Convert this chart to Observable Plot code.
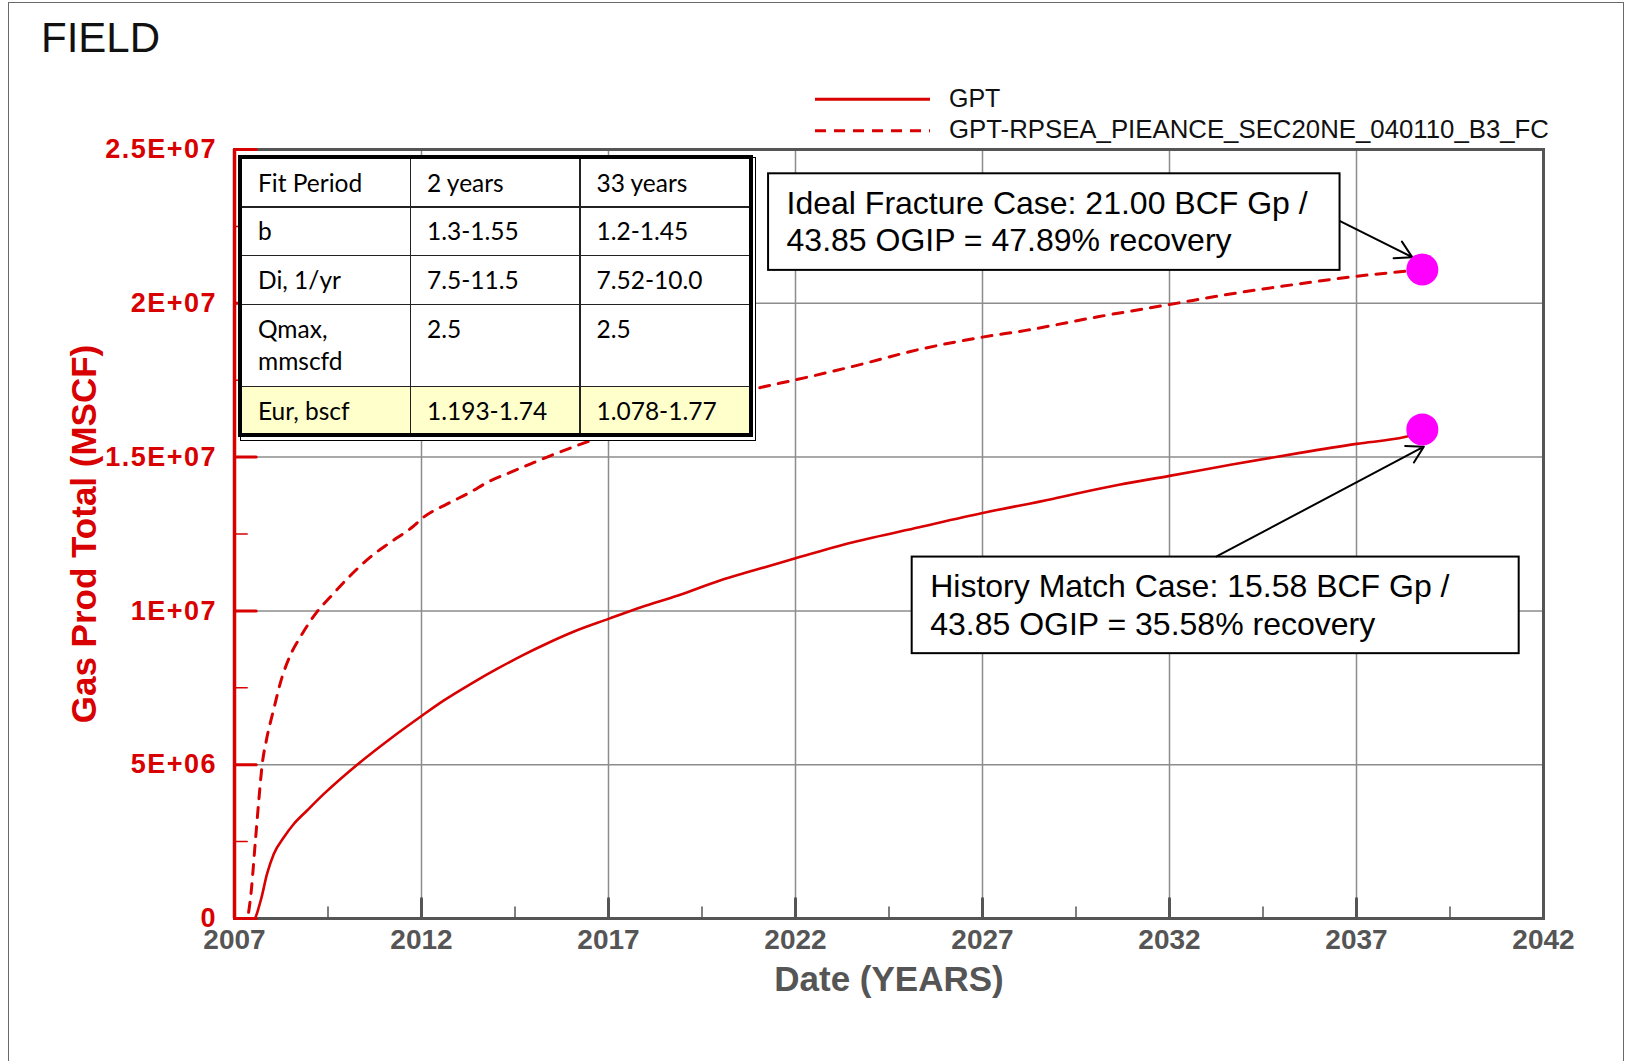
<!DOCTYPE html>
<html>
<head>
<meta charset="utf-8">
<script src="https://cdn.jsdelivr.net/npm/d3@7"></script>
<script src="https://cdn.jsdelivr.net/npm/@observablehq/plot@0.6"></script>
<style>
html, body { margin:0; padding:0; background:#fff; }
#wrap { position:relative; width:1629px; height:1061px; overflow:hidden; font-family:"Liberation Sans", Arial, sans-serif; }
#wrap > svg { position:absolute; left:0; top:0; }
#pageBorder { position:absolute; left:8px; top:1.5px; width:1616px; height:1100px; border:1.5px solid #6a6a6a; box-sizing:border-box; }
#title { position:absolute; left:41px; top:17px; font-size:42px; line-height:1; color:#111; }
#tshadow { position:absolute; left:240px; top:157px; width:516px; height:284px; border:1.5px solid #000; box-sizing:border-box; background:#fff; }
#fit { position:absolute; left:238px; top:155px; border:4px solid #000; display:grid;
  grid-template-columns:167.5px 168px 168px; grid-template-rows:47.25px 47.2px 47.5px 80.2px 45.85px;
  gap:1.5px; background:#222; font-family:Lato, "Open Sans", sans-serif; font-size:24.5px; color:#000; }
#fit div { background:#fff; padding:7.5px 0 0 16px; line-height:31.7px; white-space:pre-line; box-sizing:border-box; overflow:hidden; }
#fit div.hl { background:#ffffcc; }
g[aria-label="y-axis tick label"] text { letter-spacing:1.5px; }
</style>
</head>
<body>
<div id="wrap"></div>
<script>
// ---------- data ----------
const chartTitle = "FIELD";
const xTitle = "Date (YEARS)";
const yTitle = "Gas Prod Total (MSCF)";
const seriesNames = ["GPT", "GPT-RPSEA_PIEANCE_SEC20NE_040110_B3_FC"];

const xDomain = [2007, 2042];
const yDomain = [0, 2.5e7];
const xMajorTicks = [2007, 2012, 2017, 2022, 2027, 2032, 2037, 2042];
const xMinorTicks = [2009.5, 2014.5, 2019.5, 2024.5, 2029.5, 2034.5, 2039.5];
const yMajorTicks = [0, 5e6, 1e7, 1.5e7, 2e7, 2.5e7];
const yMinorTicks = [2.5e6, 7.5e6, 1.25e7, 1.75e7, 2.25e7];
const yTickLabels = ["0", "5E+06", "1E+07", "1.5E+07", "2E+07", "2.5E+07"];

// GPT (history match case, solid)
const gptYears = [2007, 2007.52, 2007.70, 2007.87, 2008.05, 2008.32, 2008.59, 2008.94, 2009.39, 2010.28,
  2011.15, 2012.02, 2012.6, 2013.31, 2014.03, 2014.74, 2015.37, 2016.08, 2017.0,
  2017.87, 2018.86, 2019.98, 2020.87, 2022.0, 2023.54, 2025.31, 2027.0, 2028.87, 2030.12, 2030.65,
  2032.0, 2033.67, 2035.45, 2037.0, 2038.29, 2038.76];
const gptValues = [0, 0, 0.58e6, 1.45e6, 2.1e6, 2.64e6, 3.08e6, 3.51e6, 4.05e6, 5.0e6,
  5.83e6, 6.6e6, 7.09e6, 7.62e6, 8.12e6, 8.58e6, 8.95e6, 9.33e6, 9.74e6,
  10.12e6, 10.5e6, 10.99e6, 11.31e6, 11.71e6, 12.23e6, 12.72e6, 13.18e6, 13.64e6, 13.97e6, 14.1e6,
  14.39e6, 14.76e6, 15.13e6, 15.43e6, 15.65e6, 15.8e6];

// GPT-RPSEA... (ideal fracture case, dashed)
const fcYears = [2007, 2007.33, 2007.42, 2007.56, 2007.65, 2007.74, 2007.86, 2008.04, 2008.27, 2008.49,
  2008.76, 2009.2, 2009.56, 2010.01, 2010.63, 2011.17, 2011.75, 2012.06, 2012.69, 2013.31, 2013.76,
  2014.39, 2014.92, 2015.46, 2015.99, 2016.49, 2021.09, 2022.0, 2023.54, 2025.31, 2027.0, 2028.16,
  2030.12, 2032.0, 2033.67, 2035.45, 2037.0, 2038.29, 2038.76];
const fcValues = [0, 0, 0.58e6, 2.54e6, 3.84e6, 5.0e6, 5.84e6, 6.76e6, 7.84e6, 8.55e6,
  9.15e6, 9.96e6, 10.45e6, 11.04e6, 11.75e6, 12.23e6, 12.72e6, 13.05e6, 13.48e6, 13.86e6, 14.18e6,
  14.51e6, 14.78e6, 15.05e6, 15.3e6, 15.52e6, 17.27e6, 17.51e6, 17.95e6, 18.5e6, 18.9e6, 19.12e6,
  19.57e6, 19.96e6, 20.31e6, 20.63e6, 20.88e6, 21.04e6, 21.1e6];

// end-point markers
const endYears = [2038.76, 2038.76];
const endValues = [2.11e7, 1.59e7];

// annotation texts
const noteTexts = [
  "Ideal Fracture Case: 21.00 BCF Gp /\n43.85 OGIP = 47.89% recovery",
  "History Match Case: 15.58 BCF Gp /\n43.85 OGIP = 35.58% recovery"
];

// fit table
const tableHeader = ["Fit Period", "2 years", "33 years"];
const tableRows = [
  ["b", "1.3-1.55", "1.2-1.45"],
  ["Di, 1/yr", "7.5-11.5", "7.52-10.0"],
  ["Qmax,\nmmscfd", "2.5", "2.5"],
  ["Eur, bscf", "1.193-1.74", "1.078-1.77"]
];

// ---------- layout (annotation placement in data units) ----------
const noteBoxes = [
  {x1: 2021.28, x2: 2036.56, y1: 21.07e6, y2: 24.21e6},
  {x1: 2025.12, x2: 2041.35, y1: 8.61e6, y2: 11.75e6}
];
const noteArrows = [
  {x1: 2036.56, y1: 22.67e6, x2: 2038.49, y2: 21.5e6},
  {x1: 2033.26, y1: 11.77e6, x2: 2038.8, y2: 15.34e6}
];

const RED = "#d80000", GRAY = "#555555", GRID = "#8c8c8c";

const gpt = gptYears.map((y, i) => ({year: y, value: gptValues[i]}));
const fc = fcYears.map((y, i) => ({year: y, value: fcValues[i]}));
const ends = endYears.map((y, i) => ({year: y, value: endValues[i]}));
const boxes = noteBoxes.map((b, i) => ({...b, text: noteTexts[i]}));

const tickLine = {draw(context, l) { context.moveTo(0, 0); context.lineTo(0, -l); }};

const chart = Plot.plot({
  width: 1629, height: 1061,
  marginLeft: 234, marginRight: 86, marginTop: 149, marginBottom: 143,
  x: {domain: xDomain},
  y: {domain: yDomain},
  style: {fontFamily: '"Liberation Sans", Arial, sans-serif', background: "transparent", overflow: "visible"},
  marks: [
    Plot.gridX(xMajorTicks.slice(1, -1), {stroke: GRID, strokeOpacity: 1, strokeWidth: 1.5}),
    Plot.gridY(yMajorTicks.slice(1, -1), {stroke: GRID, strokeOpacity: 1, strokeWidth: 1.5}),
    Plot.frame({stroke: GRAY, strokeWidth: 3}),
    Plot.ruleX([xDomain[0]], {stroke: RED, strokeWidth: 3.5}),
    Plot.vector(yMajorTicks, {x: () => xDomain[0], y: d => d, length: 21.7, rotate: 90, anchor: "start", shape: tickLine, stroke: RED, strokeWidth: 3}),
    Plot.vector(yMinorTicks, {x: () => xDomain[0], y: d => d, length: 12.7, rotate: 90, anchor: "start", shape: tickLine, stroke: RED, strokeWidth: 1.5}),
    Plot.vector(xMajorTicks.slice(1, -1), {x: d => d, y: () => yDomain[0], length: 20, rotate: 0, anchor: "start", shape: tickLine, stroke: GRAY, strokeWidth: 3}),
    Plot.vector(xMinorTicks, {x: d => d, y: () => yDomain[0], length: 11.5, rotate: 0, anchor: "start", shape: tickLine, stroke: GRAY, strokeWidth: 1.5}),
    Plot.line(gpt, {x: "year", y: "value", stroke: RED, strokeWidth: 2.6, curve: "monotone-x"}),
    Plot.line(fc, {x: "year", y: "value", stroke: RED, strokeWidth: 3, strokeDasharray: "10,9", curve: "monotone-x"}),
    Plot.rect(boxes, {x1: "x1", x2: "x2", y1: "y1", y2: "y2", fill: "white", stroke: "black", strokeWidth: 2}),
    Plot.text(boxes, {x: "x1", y: "y2", text: "text", textAnchor: "start", lineAnchor: "top", dx: 18, dy: 13.5, fontSize: 32, lineHeight: 1.17, fill: "#000"}),
    Plot.arrow(noteArrows, {x1: "x1", y1: "y1", x2: "x2", y2: "y2", stroke: "#000", strokeWidth: 2, headLength: 14}),
    Plot.dot(ends, {x: "year", y: "value", r: 16, fill: "#ff00ff", stroke: null}),
    Plot.axisX(xMajorTicks, {tickSize: 0, tickPadding: 11, tickFormat: d => String(d), fontSize: 28, fontWeight: "bold", color: GRAY, fill: GRAY, label: null}),
    Plot.axisY(yMajorTicks, {tickSize: 0, tickPadding: 17.5, tickFormat: d => yTickLabels[yMajorTicks.indexOf(d)], fontSize: 27, fontWeight: "bold", color: RED, fill: RED, label: null}),
    Plot.text([yTitle], {text: d => d, frameAnchor: "left", rotate: -90, dx: -150, fontSize: 35, fontWeight: "bold", fill: RED, textAnchor: "middle", lineAnchor: "middle"}),
    Plot.text([xTitle], {text: d => d, frameAnchor: "bottom", dy: 61, fontSize: 35, fontWeight: "bold", fill: GRAY, textAnchor: "middle", lineAnchor: "middle"})
  ]
});

const wrap = document.getElementById("wrap");
wrap.appendChild(chart);

// page border
const border = document.createElement("div");
border.id = "pageBorder";
wrap.appendChild(border);

// title
const title = document.createElement("div");
title.id = "title";
title.textContent = chartTitle;
wrap.appendChild(title);

// table
const shadow = document.createElement("div");
shadow.id = "tshadow";
wrap.appendChild(shadow);
const table = document.createElement("div");
table.id = "fit";
[tableHeader, ...tableRows].forEach((row, r) => {
  row.forEach(cell => {
    const c = document.createElement("div");
    c.textContent = cell;
    if (r === tableRows.length) c.className = "hl";
    table.appendChild(c);
  });
});
wrap.appendChild(table);

// legend
const legend = d3.create("svg")
  .attr("width", 1629).attr("height", 170)
  .style("position", "absolute").style("left", "0px").style("top", "0px");
const legendRows = [{y: 99.3, base: 106.7, dash: null, len: null}, {y: 130.7, base: 138.3, dash: "11,8", len: 600}];
seriesNames.forEach((name, i) => {
  const r = legendRows[i];
  legend.append("line")
    .attr("x1", 815).attr("x2", 930).attr("y1", r.y).attr("y2", r.y)
    .attr("stroke", RED).attr("stroke-width", 3)
    .attr("stroke-dasharray", r.dash);
  const t = legend.append("text")
    .attr("x", 949).attr("y", r.base)
    .attr("font-family", '"Liberation Sans", Arial, sans-serif')
    .attr("font-size", 25).attr("fill", "#111")
    .text(name);
  if (r.len) t.attr("textLength", r.len).attr("lengthAdjust", "spacingAndGlyphs");
});
wrap.appendChild(legend.node());
</script>
</body>
</html>
